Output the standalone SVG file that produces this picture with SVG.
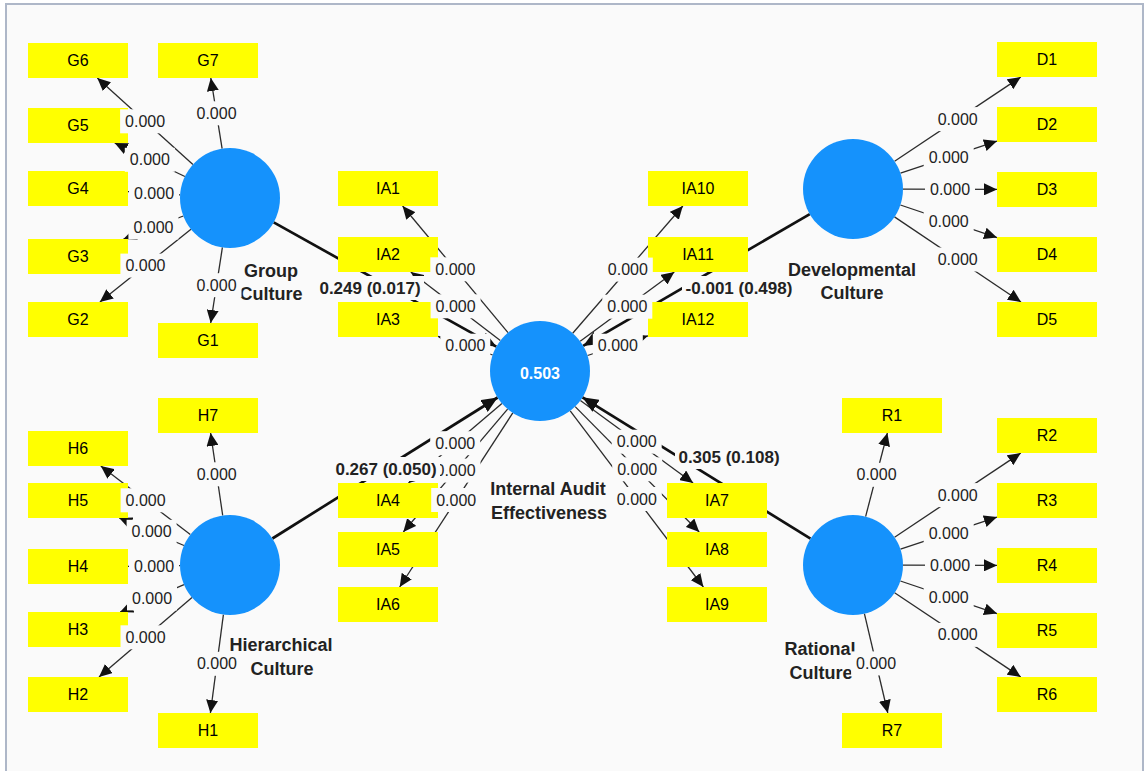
<svg xmlns="http://www.w3.org/2000/svg" width="1144" height="771" viewBox="0 0 1144 771">
  <style>
    .frame{fill:#fafafa;stroke:#aeb7c8;stroke-width:2}
    .lv{fill:#1592fc}
    .box{fill:#ffff00}
    .bt{font-family:"Liberation Sans",Arial,sans-serif;font-size:16px;fill:#000;text-anchor:middle;dominant-baseline:central}
    .nm{font-family:"Liberation Sans",Arial,sans-serif;font-size:18px;font-weight:bold;fill:#222;text-anchor:middle}
    .r2{font-family:"Liberation Sans",Arial,sans-serif;font-size:16px;font-weight:bold;fill:#fff;text-anchor:middle;dominant-baseline:central}
    .ld{stroke:#2b2b2b;stroke-width:1.3;fill:none;marker-end:url(#ah)}
    .pt{stroke:#111;stroke-width:2.7;fill:none;marker-end:url(#ahb)}
    .lb{fill:#fafafa}
    .lt{font-family:"Liberation Sans",Arial,sans-serif;font-size:16px;fill:#222;text-anchor:middle;dominant-baseline:central}
    .pl{font-family:"Liberation Sans",Arial,sans-serif;font-size:17px;font-weight:bold;fill:#222;text-anchor:middle;dominant-baseline:central}
  </style>
  <defs>
    <marker id="ah" markerUnits="userSpaceOnUse" markerWidth="13" markerHeight="12" refX="13" refY="6" orient="auto">
      <path d="M0,0 L13,6 L0,12 z" fill="#111"/>
    </marker>
    <marker id="ahb" markerUnits="userSpaceOnUse" markerWidth="16" markerHeight="14" refX="16" refY="7" orient="auto">
      <path d="M0,0 L16,7 L0,14 z" fill="#111"/>
    </marker>
  </defs>

  <rect width="1144" height="771" fill="#ffffff"/>
  <rect class="frame" x="6" y="4" width="1137" height="800"/>

  <!-- connectors: loadings and structural paths -->
  <g id="connectors">
    <!-- Group Culture loadings -->
    <line class="ld" x1="222.4" y1="247.4" x2="210.7" y2="323"/>
    <line class="ld" x1="191" y1="229.2" x2="99.9" y2="302"/>
    <line class="ld" x1="183.3" y1="216" x2="123.5" y2="239"/>
    <line class="ld" x1="180.1" y1="194.9" x2="128" y2="191.6"/>
    <line class="ld" x1="184.9" y1="176.5" x2="114.7" y2="143"/>
    <line class="ld" x1="192.9" y1="164.5" x2="97.3" y2="78"/>
    <line class="ld" x1="222.1" y1="148.6" x2="210.8" y2="78"/>
    <!-- Hierarchical Culture loadings -->
    <line class="ld" x1="223.4" y1="614.6" x2="210.4" y2="713"/>
    <line class="ld" x1="192" y1="597.5" x2="99" y2="677"/>
    <line class="ld" x1="184" y1="584.7" x2="120.1" y2="612"/>
    <line class="ld" x1="180" y1="565.7" x2="128" y2="566.3"/>
    <line class="ld" x1="184" y1="545.5" x2="119.2" y2="518"/>
    <line class="ld" x1="190.3" y1="534.6" x2="100.8" y2="466"/>
    <line class="ld" x1="222.7" y1="515.5" x2="210.6" y2="433"/>
    <!-- Developmental Culture loadings -->
    <line class="ld" x1="894.6" y1="161.2" x2="1020.8" y2="77"/>
    <line class="ld" x1="900.5" y1="173.2" x2="997" y2="141.1"/>
    <line class="ld" x1="903" y1="189.1" x2="997" y2="189.4"/>
    <line class="ld" x1="900.4" y1="205" x2="997" y2="237.6"/>
    <line class="ld" x1="894.5" y1="216.9" x2="1021" y2="302"/>
    <!-- Rational Culture loadings -->
    <line class="ld" x1="865.6" y1="516.6" x2="887.4" y2="433"/>
    <line class="ld" x1="894.6" y1="537.2" x2="1020.8" y2="453"/>
    <line class="ld" x1="900.5" y1="549.2" x2="997" y2="517.1"/>
    <line class="ld" x1="903" y1="565.1" x2="997" y2="565.4"/>
    <line class="ld" x1="900.4" y1="581" x2="997" y2="613.6"/>
    <line class="ld" x1="894.6" y1="592.8" x2="1020.8" y2="677"/>
    <line class="ld" x1="864.4" y1="613.7" x2="887.8" y2="713"/>
    <!-- Internal Audit Effectiveness loadings -->
    <line class="ld" x1="508" y1="332.6" x2="402.6" y2="206"/>
    <line class="ld" x1="500.3" y1="340.6" x2="410.8" y2="272"/>
    <line class="ld" x1="492.7" y1="355" x2="438" y2="336.4"/>
    <line class="ld" x1="501.9" y1="403.4" x2="408.5" y2="483"/>
    <line class="ld" x1="507.6" y1="409.1" x2="403.3" y2="532"/>
    <line class="ld" x1="512.8" y1="412.9" x2="399.7" y2="587"/>
    <line class="ld" x1="580.4" y1="400.5" x2="693.1" y2="483"/>
    <line class="ld" x1="575.2" y1="406.6" x2="699.2" y2="532"/>
    <line class="ld" x1="570.2" y1="410.9" x2="703.4" y2="587"/>
    <line class="ld" x1="572.7" y1="333.2" x2="682.8" y2="206"/>
    <line class="ld" x1="580.2" y1="341.3" x2="674.3" y2="272"/>
    <line class="ld" x1="587.5" y1="355.5" x2="648" y2="335.8"/>
    <!-- structural paths -->
    <line class="pt" x1="273.7" y1="222.4" x2="496.3" y2="346.6"/>
    <line class="pt" x1="272.4" y1="538.5" x2="497.6" y2="397.5"/>
    <line class="pt" x1="809.8" y1="214.1" x2="583.2" y2="345.9"/>
    <line class="pt" x1="810.5" y1="538.7" x2="582.5" y2="397.3"/>
  </g>

  <!-- latent variables -->
  <g id="group-culture">
    <circle class="lv" cx="230" cy="198" r="50"/>
    <text class="nm" x="271" y="277">Group</text>
    <text class="nm" x="271" y="300">Culture</text>
  </g>
  <g id="hierarchical-culture">
    <circle class="lv" cx="230" cy="565" r="50"/>
    <text class="nm" x="281" y="651">Hierarchical</text>
    <text class="nm" x="282" y="675">Culture</text>
  </g>
  <g id="developmental-culture">
    <circle class="lv" cx="853" cy="189" r="50"/>
    <text class="nm" x="852" y="276">Developmental</text>
    <text class="nm" x="852" y="299">Culture</text>
  </g>
  <g id="rational-culture">
    <circle class="lv" cx="853" cy="565" r="50"/>
    <text class="nm" x="820" y="655">Rational</text>
    <text class="nm" x="821" y="679">Culture</text>
  </g>
  <g id="internal-audit-effectiveness">
    <circle class="lv" cx="540" cy="371" r="50"/>
    <text class="r2" x="540" y="373">0.503</text>
    <text class="nm" x="548" y="495">Internal Audit</text>
    <text class="nm" x="549" y="519">Effectiveness</text>
  </g>

  <!-- indicators -->
  <g id="G1"><rect class="box" x="158" y="323" width="100" height="35"/><text class="bt" x="208" y="340.5">G1</text></g>
  <g id="G2"><rect class="box" x="28" y="302" width="100" height="35"/><text class="bt" x="78" y="319.5">G2</text></g>
  <g id="G3"><rect class="box" x="28" y="239" width="100" height="35"/><text class="bt" x="78" y="256.5">G3</text></g>
  <g id="G4"><rect class="box" x="28" y="171" width="100" height="35"/><text class="bt" x="78" y="188.5">G4</text></g>
  <g id="G5"><rect class="box" x="28" y="108" width="100" height="35"/><text class="bt" x="78" y="125.5">G5</text></g>
  <g id="G6"><rect class="box" x="28" y="43" width="100" height="35"/><text class="bt" x="78" y="60.5">G6</text></g>
  <g id="G7"><rect class="box" x="158" y="43" width="100" height="35"/><text class="bt" x="208" y="60.5">G7</text></g>

  <g id="H1"><rect class="box" x="158" y="713" width="100" height="35"/><text class="bt" x="208" y="730.5">H1</text></g>
  <g id="H2"><rect class="box" x="28" y="677" width="100" height="35"/><text class="bt" x="78" y="694.5">H2</text></g>
  <g id="H3"><rect class="box" x="28" y="612" width="100" height="35"/><text class="bt" x="78" y="629.5">H3</text></g>
  <g id="H4"><rect class="box" x="28" y="549" width="100" height="35"/><text class="bt" x="78" y="566.5">H4</text></g>
  <g id="H5"><rect class="box" x="28" y="483" width="100" height="35"/><text class="bt" x="78" y="500.5">H5</text></g>
  <g id="H6"><rect class="box" x="28" y="431" width="100" height="35"/><text class="bt" x="78" y="448.5">H6</text></g>
  <g id="H7"><rect class="box" x="158" y="398" width="100" height="35"/><text class="bt" x="208" y="415.5">H7</text></g>

  <g id="D1"><rect class="box" x="997" y="42" width="100" height="35"/><text class="bt" x="1047" y="59.5">D1</text></g>
  <g id="D2"><rect class="box" x="997" y="107" width="100" height="35"/><text class="bt" x="1047" y="124.5">D2</text></g>
  <g id="D3"><rect class="box" x="997" y="172" width="100" height="35"/><text class="bt" x="1047" y="189.5">D3</text></g>
  <g id="D4"><rect class="box" x="997" y="237" width="100" height="35"/><text class="bt" x="1047" y="254.5">D4</text></g>
  <g id="D5"><rect class="box" x="997" y="302" width="100" height="35"/><text class="bt" x="1047" y="319.5">D5</text></g>

  <g id="R1"><rect class="box" x="842" y="398" width="100" height="35"/><text class="bt" x="892" y="415.5">R1</text></g>
  <g id="R2"><rect class="box" x="997" y="418" width="100" height="35"/><text class="bt" x="1047" y="435.5">R2</text></g>
  <g id="R3"><rect class="box" x="997" y="483" width="100" height="35"/><text class="bt" x="1047" y="500.5">R3</text></g>
  <g id="R4"><rect class="box" x="997" y="548" width="100" height="35"/><text class="bt" x="1047" y="565.5">R4</text></g>
  <g id="R5"><rect class="box" x="997" y="613" width="100" height="35"/><text class="bt" x="1047" y="630.5">R5</text></g>
  <g id="R6"><rect class="box" x="997" y="677" width="100" height="35"/><text class="bt" x="1047" y="694.5">R6</text></g>
  <g id="R7"><rect class="box" x="842" y="713" width="100" height="35"/><text class="bt" x="892" y="730.5">R7</text></g>

  <g id="IA1"><rect class="box" x="338" y="171" width="100" height="35"/><text class="bt" x="388" y="188.5">IA1</text></g>
  <g id="IA2"><rect class="box" x="338" y="237" width="100" height="35"/><text class="bt" x="388" y="254.5">IA2</text></g>
  <g id="IA3"><rect class="box" x="338" y="302" width="100" height="35"/><text class="bt" x="388" y="319.5">IA3</text></g>
  <g id="IA4"><rect class="box" x="338" y="483" width="100" height="35"/><text class="bt" x="388" y="500.5">IA4</text></g>
  <g id="IA5"><rect class="box" x="338" y="532" width="100" height="35"/><text class="bt" x="388" y="549.5">IA5</text></g>
  <g id="IA6"><rect class="box" x="338" y="587" width="100" height="35"/><text class="bt" x="388" y="604.5">IA6</text></g>
  <g id="IA7"><rect class="box" x="667" y="483" width="100" height="35"/><text class="bt" x="717" y="500.5">IA7</text></g>
  <g id="IA8"><rect class="box" x="667" y="532" width="100" height="35"/><text class="bt" x="717" y="549.5">IA8</text></g>
  <g id="IA9"><rect class="box" x="667" y="587" width="100" height="35"/><text class="bt" x="717" y="604.5">IA9</text></g>
  <g id="IA10"><rect class="box" x="648" y="171" width="100" height="35"/><text class="bt" x="698" y="188.5">IA10</text></g>
  <g id="IA11"><rect class="box" x="648" y="237" width="100" height="35"/><text class="bt" x="698" y="254.5">IA11</text></g>
  <g id="IA12"><rect class="box" x="648" y="302" width="100" height="35"/><text class="bt" x="698" y="319.5">IA12</text></g>

  <!-- connector weights, each on a plate of canvas colour -->
  <g id="connector-labels">
    <g transform="translate(216.5,285.2)"><rect class="lb" x="-25" y="-12" width="50" height="24"/><text class="lt">0.000</text></g>
    <g transform="translate(145.4,265.6)"><rect class="lb" x="-25" y="-12" width="50" height="24"/><text class="lt">0.000</text></g>
    <g transform="translate(153.4,227.5)"><rect class="lb" x="-25" y="-12" width="50" height="24"/><text class="lt">0.000</text></g>
    <g transform="translate(154,193.2)"><rect class="lb" x="-25" y="-12" width="50" height="24"/><text class="lt">0.000</text></g>
    <g transform="translate(149.8,159.8)"><rect class="lb" x="-25" y="-12" width="50" height="24"/><text class="lt">0.000</text></g>
    <g transform="translate(145.1,121.3)"><rect class="lb" x="-25" y="-12" width="50" height="24"/><text class="lt">0.000</text></g>
    <g transform="translate(216.5,113.3)"><rect class="lb" x="-25" y="-12" width="50" height="24"/><text class="lt">0.000</text></g>

    <g transform="translate(216.9,663.8)"><rect class="lb" x="-25" y="-12" width="50" height="24"/><text class="lt">0.000</text></g>
    <g transform="translate(145.5,637.3)"><rect class="lb" x="-25" y="-12" width="50" height="24"/><text class="lt">0.000</text></g>
    <g transform="translate(152,598.4)"><rect class="lb" x="-25" y="-12" width="50" height="24"/><text class="lt">0.000</text></g>
    <g transform="translate(154,566)"><rect class="lb" x="-25" y="-12" width="50" height="24"/><text class="lt">0.000</text></g>
    <g transform="translate(151.6,531.8)"><rect class="lb" x="-25" y="-12" width="50" height="24"/><text class="lt">0.000</text></g>
    <g transform="translate(145.6,500.3)"><rect class="lb" x="-25" y="-12" width="50" height="24"/><text class="lt">0.000</text></g>
    <g transform="translate(216.7,474.3)"><rect class="lb" x="-25" y="-12" width="50" height="24"/><text class="lt">0.000</text></g>

    <g transform="translate(957.7,119.1)"><rect class="lb" x="-25" y="-12" width="50" height="24"/><text class="lt">0.000</text></g>
    <g transform="translate(948.7,157.2)"><rect class="lb" x="-25" y="-12" width="50" height="24"/><text class="lt">0.000</text></g>
    <g transform="translate(950,189.2)"><rect class="lb" x="-25" y="-12" width="50" height="24"/><text class="lt">0.000</text></g>
    <g transform="translate(948.7,221.3)"><rect class="lb" x="-25" y="-12" width="50" height="24"/><text class="lt">0.000</text></g>
    <g transform="translate(957.7,259.5)"><rect class="lb" x="-25" y="-12" width="50" height="24"/><text class="lt">0.000</text></g>

    <g transform="translate(876.5,474.8)"><rect class="lb" x="-25" y="-12" width="50" height="24"/><text class="lt">0.000</text></g>
    <g transform="translate(957.7,495.1)"><rect class="lb" x="-25" y="-12" width="50" height="24"/><text class="lt">0.000</text></g>
    <g transform="translate(948.7,533.2)"><rect class="lb" x="-25" y="-12" width="50" height="24"/><text class="lt">0.000</text></g>
    <g transform="translate(950,565.2)"><rect class="lb" x="-25" y="-12" width="50" height="24"/><text class="lt">0.000</text></g>
    <g transform="translate(948.7,597.3)"><rect class="lb" x="-25" y="-12" width="50" height="24"/><text class="lt">0.000</text></g>
    <g transform="translate(957.7,634.9)"><rect class="lb" x="-25" y="-12" width="50" height="24"/><text class="lt">0.000</text></g>
    <g transform="translate(876.1,663.4)"><rect class="lb" x="-25" y="-12" width="50" height="24"/><text class="lt">0.000</text></g>

    <g transform="translate(455.3,269.3)"><rect class="lb" x="-25" y="-12" width="50" height="24"/><text class="lt">0.000</text></g>
    <g transform="translate(455.6,306.3)"><rect class="lb" x="-25" y="-12" width="50" height="24"/><text class="lt">0.000</text></g>
    <g transform="translate(465.3,345.7)"><rect class="lb" x="-25" y="-12" width="50" height="24"/><text class="lt">0.000</text></g>
    <g transform="translate(455.2,443.2)"><rect class="lb" x="-25" y="-12" width="50" height="24"/><text class="lt">0.000</text></g>
    <g transform="translate(455.5,470.6)"><rect class="lb" x="-25" y="-12" width="50" height="24"/><text class="lt">0.000</text></g>
    <g transform="translate(456.2,500)"><rect class="lb" x="-25" y="-12" width="50" height="24"/><text class="lt">0.000</text></g>
    <g transform="translate(636.7,441.7)"><rect class="lb" x="-25" y="-12" width="50" height="24"/><text class="lt">0.000</text></g>
    <g transform="translate(637.2,469.3)"><rect class="lb" x="-25" y="-12" width="50" height="24"/><text class="lt">0.000</text></g>
    <g transform="translate(636.8,499)"><rect class="lb" x="-25" y="-12" width="50" height="24"/><text class="lt">0.000</text></g>
    <g transform="translate(627.8,269.6)"><rect class="lb" x="-25" y="-12" width="50" height="24"/><text class="lt">0.000</text></g>
    <g transform="translate(627.3,306.7)"><rect class="lb" x="-25" y="-12" width="50" height="24"/><text class="lt">0.000</text></g>
    <g transform="translate(617.8,345.7)"><rect class="lb" x="-25" y="-12" width="50" height="24"/><text class="lt">0.000</text></g>

    <g transform="translate(370,288)"><rect class="lb" x="-54" y="-12" width="108" height="24"/><text class="pl">0.249 (0.017)</text></g>
    <g transform="translate(386,469)"><rect class="lb" x="-54" y="-12" width="108" height="24"/><text class="pl">0.267 (0.050)</text></g>
    <g transform="translate(739,288)"><rect class="lb" x="-57" y="-12" width="114" height="24"/><text class="pl">-0.001 (0.498)</text></g>
    <g transform="translate(729,457)"><rect class="lb" x="-54" y="-12" width="108" height="24"/><text class="pl">0.305 (0.108)</text></g>
  </g>
</svg>
